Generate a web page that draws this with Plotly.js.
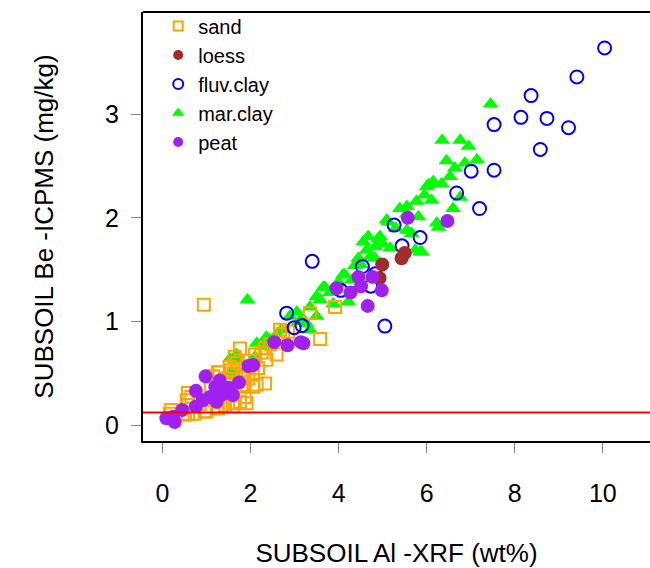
<!DOCTYPE html>
<html>
<head>
<meta charset="utf-8">
<script src="https://cdn.plot.ly/plotly-3.0.1.min.js"></script>
<style>html,body{margin:0;padding:0;background:#fff;overflow:hidden;}</style>
</head>
<body>
<div id="chart" style="width:650px;height:568px;"></div>
<script>
// ---- data ----
const sandX = [0.94,3.35,3.92,2.67,2.74,3.58,1.76,1.64,2.10,2.33,2.59,2.36,1.30,1.53,1.87,2.17,2.33,2.14,2.06,1.87,1.64,1.42,1.00,0.66,0.58,0.17,0.51,0.73,1.23,1.83,1.53,1.15,1.53,1.26,1.83,1.91,0.58,0.55,0.20,0.58,0.96,1.26,1.60,1.76,1.95,2.05,1.70,1.45,1.10,0.85,2.25,2.45,1.98,2.85,1.62,1.40];
const sandY = [1.16,1.08,1.14,0.92,0.88,0.83,0.74,0.66,0.68,0.74,0.68,0.63,0.51,0.53,0.53,0.55,0.40,0.39,0.37,0.27,0.21,0.19,0.13,0.27,0.19,0.11,0.10,0.11,0.225,0.37,0.40,0.47,0.56,0.51,0.47,0.21,0.31,0.24,0.145,0.11,0.13,0.16,0.18,0.225,0.45,0.50,0.60,0.45,0.35,0.20,0.70,0.78,0.62,0.90,0.50,0.30];

const loessX = [4.99,4.93,5.50,5.43];
const loessY = [1.55,1.42,1.66,1.61];

const fluvX = [10.04,9.41,8.37,8.14,8.73,9.22,7.53,8.58,7.53,7.01,6.68,7.20,3.40,5.26,5.85,5.44,4.54,4.83,4.05,4.73,5.05,2.82,2.99,3.17,1.45];
const fluvY = [3.64,3.36,3.18,2.97,2.96,2.87,2.90,2.66,2.46,2.45,2.24,2.09,1.58,1.93,1.81,1.73,1.53,1.46,1.30,1.34,0.955,1.08,0.94,0.96,0.32];

const marX = [7.45,6.35,6.76,6.95,7.14,6.87,6.64,6.53,6.15,6.34,6.00,6.04,6.76,6.60,6.11,5.77,5.55,6.23,6.27,5.89,5.85,5.39,5.55,5.13,5.09,5.81,4.94,4.90,4.67,4.56,4.83,5.55,5.66,5.17,4.64,4.45,4.71,4.83,4.37,4.10,4.14,3.65,3.69,3.50,4.22,3.88,3.58,3.35,3.50,3.27,3.35,1.93,3.05,2.89,2.70,2.36,2.44,2.14,2.29,2.10,1.68,1.53,1.68,1.57,3.20,3.80,4.30,5.30,5.00,4.00,2.60,3.10,4.50,5.95,6.45,5.74];
const marY = [3.10,2.75,2.75,2.69,2.56,2.53,2.48,2.40,2.35,2.33,2.30,2.32,2.20,2.09,2.17,2.16,2.11,1.95,1.91,1.67,1.67,2.09,2.04,1.96,1.98,2.01,1.82,1.80,1.82,1.77,1.72,1.88,1.85,1.71,1.69,1.61,1.62,1.61,1.54,1.45,1.45,1.33,1.33,1.24,1.19,1.17,1.21,1.14,1.05,0.98,0.92,1.21,1.09,1.05,0.92,0.85,0.82,0.79,0.76,0.66,0.64,0.64,0.68,0.51,1.02,1.28,1.40,1.90,1.75,1.38,0.88,1.00,1.55,2.22,2.55,1.69];

const peatX = [5.57,6.47,3.95,4.27,4.45,4.51,4.98,4.77,4.66,3.20,2.54,2.84,3.14,2.06,1.95,0.98,1.30,1.74,1.20,0.76,1.34,1.60,1.08,1.23,0.92,0.76,0.45,0.09,0.28,0.24,1.40,1.50];
const peatY = [2.00,1.97,1.32,1.28,1.43,1.34,1.30,1.43,1.15,0.79,0.80,0.77,0.80,0.58,0.57,0.47,0.43,0.41,0.37,0.33,0.29,0.29,0.27,0.225,0.24,0.18,0.145,0.065,0.03,0.08,0.34,0.36];

const detectionLimit = [0.12];
const xTicks = [0,2,4,6,8,10];
const yTicks = [0,1,2,3];
const groupNames = ["sand","loess","fluv.clay","mar.clay","peat"];

const FONT = "Liberation Sans, Arial, Helvetica, sans-serif";

// style per group
const styles = {
  "sand":      {symbol:"square-open", color:"#FFA500", size:12, lsize:9,  lw:2},
  "loess":     {symbol:"circle",      color:"#A52A2A", size:14, lsize:10, lw:0},
  "fluv.clay": {symbol:"circle-open", color:"#0000FF", size:13, lsize:10, lw:2},
  "mar.clay":  {symbol:"triangle-up", color:"#00FF00", size:14, lsize:11, lw:0},
  "peat":      {symbol:"circle",      color:"#A020F0", size:14, lsize:10, lw:0}
};
const dataByGroup = {
  "sand": [sandX, sandY],
  "loess": [loessX, loessY],
  "fluv.clay": [fluvX, fluvY],
  "mar.clay": [marX, marY],
  "peat": [peatX, peatY]
};

// drawing order (bottom to top)
const drawOrder = ["mar.clay","sand","fluv.clay","loess","peat"];
const traces = [];
drawOrder.forEach(g => {
  const s = styles[g];
  traces.push({
    type:"scatter", mode:"markers", name:g, showlegend:false,
    x:dataByGroup[g][0], y:dataByGroup[g][1],
    marker:{symbol:s.symbol, color:s.color, size:s.size, line:{color:s.color, width:s.lw}},
    hoverinfo:"x+y+name"
  });
});
// legend entries (no points of their own)
groupNames.forEach((g,i) => {
  const s = styles[g];
  traces.push({
    type:"scatter", mode:"markers", name:g, showlegend:true, legendrank:i+1,
    x:[null], y:[null],
    marker:{symbol:s.symbol, color:s.color, size:s.lsize, line:{color:s.color, width:s.lw}}
  });
});

const layout = {
  width:650, height:568,
  margin:{l:143, r:0, t:12, b:127, pad:0},
  paper_bgcolor:"#ffffff", plot_bgcolor:"#ffffff",
  font:{family:FONT, color:"#000"},
  showlegend:true,
  legend:{
    x:0.03, xanchor:"left", y:1.013, yanchor:"top",
    bgcolor:"rgba(0,0,0,0)", borderwidth:0,
    font:{family:FONT, size:20, color:"#000"},
    itemclick:false, itemdoubleclick:false
  },
  xaxis:{
    range:[-0.441, 11.07], tickvals:xTicks, ticktext:xTicks.map(String),
    ticks:"outside", ticklen:10, tickwidth:1, tickcolor:"#888",
    showline:true, linecolor:"#000", linewidth:2, mirror:false,
    showgrid:false, zeroline:false,
    tickfont:{family:FONT, size:25, color:"#000"},
    ticklabelstandoff:19,
    title:{text:"SUBSOIL Al -XRF (wt%)", font:{family:FONT, size:26, color:"#000"}, standoff:42},
    automargin:false
  },
  yaxis:{
    range:[-0.154, 3.987], tickvals:yTicks, ticktext:yTicks.map(String),
    ticks:"outside", ticklen:10, tickwidth:1, tickcolor:"#888",
    showline:true, linecolor:"#000", linewidth:2, mirror:false,
    showgrid:false, zeroline:false,
    tickfont:{family:FONT, size:25, color:"#000"},
    ticklabelstandoff:7,
    title:{text:"SUBSOIL Be -ICPMS (mg/kg)", font:{family:FONT, size:26, color:"#000"}, standoff:44},
    automargin:false
  },
  shapes:[
    {type:"line", xref:"paper", yref:"paper", x0:0, x1:1, y0:1, y1:1, line:{color:"#000", width:2}},
    {type:"line", xref:"paper", yref:"y", x0:0, x1:1, y0:detectionLimit[0], y1:detectionLimit[0], line:{color:"#FF0000", width:2}, layer:"above"}
  ]
};

Plotly.newPlot("chart", traces, layout, {displayModeBar:false, staticPlot:true});
</script>
</body>
</html>
